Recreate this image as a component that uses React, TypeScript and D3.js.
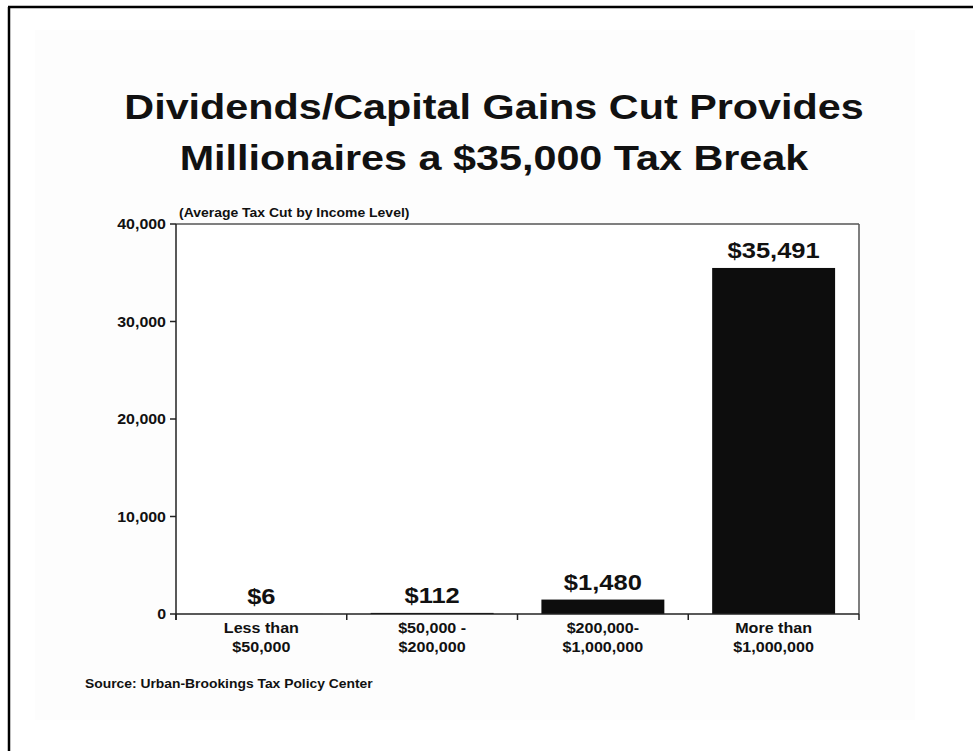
import React from "react";
import * as d3 from "d3";

const categories: string[][] = [
  ["Less than", "$50,000"],
  ["$50,000 -", "$200,000"],
  ["$200,000-", "$1,000,000"],
  ["More than", "$1,000,000"],
];
const values: number[] = [6, 112, 1480, 35491];
const valueLabels: string[] = ["$6", "$112", "$1,480", "$35,491"];
const yTicks: number[] = [0, 10000, 20000, 30000, 40000];
const titleLines: string[] = [
  "Dividends/Capital Gains Cut Provides",
  "Millionaires a $35,000 Tax Break",
];
const subtitle = "(Average Tax Cut by Income Level)";
const source = "Source: Urban-Brookings Tax Policy Center";

const W = 973;
const H = 751;
const FONT = "'Liberation Sans', Arial, Helvetica, sans-serif";

function T(props: {
  x: number; y: number; sx: number; size: number; anchor?: "start" | "middle" | "end"; children: React.ReactNode;
}) {
  return (
    <text transform={`translate(${props.x},${props.y}) scale(${props.sx},1)`} textAnchor={props.anchor || "start"}
      fontFamily={FONT} fontWeight="bold" fontSize={props.size} fill="#111">
      {props.children}
    </text>
  );
}

export default function App() {
  const left = 176, right = 859, top = 224, bottom = 614;
  const keys = categories.map((_, i) => String(i));
  const x = d3.scaleBand<string>().domain(keys).range([left, right]).paddingInner(0.28).paddingOuter(0.14);
  const y = d3.scaleLinear().domain([0, 40000]).range([bottom, top]);
  const bandStep = (right - left) / categories.length;
  const fmt = d3.format(",");

  return (
    <svg width={W} height={H} style={{ position: "absolute", left: 0, top: 0, display: "block" }}>
      <rect x={0} y={0} width={W} height={H} fill="#ffffff" />
      <rect x={35} y={30} width={880} height={690} fill="#fdfdfd" />
      <line x1={9} y1={H} x2={9} y2={7} stroke="#000" strokeWidth={2.5} />
      <line x1={8} y1={7} x2={W} y2={7} stroke="#000" strokeWidth={2.5} />

      {titleLines.map((t, i) => (
        <T key={i} x={494} y={119 + i * 51} sx={1.148} size={36} anchor="middle">{t}</T>
      ))}

      <T x={179} y={217} sx={1.117} size={12.5}>{subtitle}</T>

      {/* plot frame */}
      <rect x={left} y={top} width={right - left} height={bottom - top} fill="#fff" stroke="none" />
      <line x1={left} y1={top} x2={right} y2={top} stroke="#555" strokeWidth={1.5} />
      <line x1={right} y1={top} x2={right} y2={bottom} stroke="#555" strokeWidth={1.5} />

      {values.map((v, i) => {
        const bx = x(String(i))!;
        const by = y(v);
        return (
          <g key={i}>
            <rect x={bx} y={by} width={x.bandwidth()} height={bottom - by} fill="#0d0d0d" />
            <T x={bx + x.bandwidth() / 2} y={by - 10} sx={1.16} size={22} anchor="middle">{valueLabels[i]}</T>
          </g>
        );
      })}

      {/* y axis */}
      <line x1={left} y1={top} x2={left} y2={bottom + 6} stroke="#222" strokeWidth={1.5} />
      {yTicks.map((t) => (
        <g key={t}>
          <line x1={left - 6} y1={y(t)} x2={left} y2={y(t)} stroke="#222" strokeWidth={1.5} />
          <T x={left - 10} y={y(t) + 5} sx={1.14} size={14} anchor="end">{fmt(t)}</T>
        </g>
      ))}

      {/* x axis */}
      <line x1={left} y1={bottom} x2={right} y2={bottom} stroke="#222" strokeWidth={1.5} />
      {d3.range(categories.length + 1).map((i) => (
        <line key={i} x1={left + i * bandStep} y1={bottom} x2={left + i * bandStep} y2={bottom + 6}
          stroke="#222" strokeWidth={1.5} />
      ))}
      {categories.map((c, i) =>
        c.map((line, j) => (
          <T key={`${i}-${j}`} x={x(String(i))! + x.bandwidth() / 2} y={633 + j * 19} sx={1.15} size={14} anchor="middle">
            {line}
          </T>
        ))
      )}

      <T x={85} y={688} sx={1.11} size={12.5}>{source}</T>
    </svg>
  );
}
